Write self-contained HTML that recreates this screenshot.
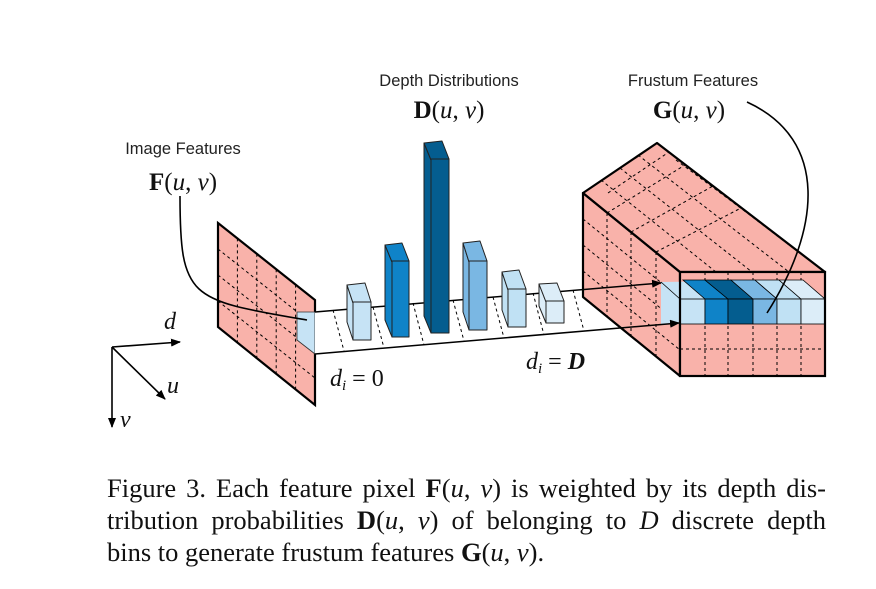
<!DOCTYPE html>
<html><head><meta charset="utf-8"><style>
html,body{margin:0;padding:0;background:#fff;}
body{width:876px;height:589px;position:relative;overflow:hidden;}
.cap{position:absolute;left:107px;width:719px;font-family:"Liberation Serif",serif;font-size:26.5px;color:#111;white-space:nowrap;text-align:justify;text-align-last:justify;line-height:32px;}
.cap i{font-style:italic}
</style></head><body>
<svg width="876" height="470" style="position:absolute;left:0;top:0" xmlns="http://www.w3.org/2000/svg">
<defs>
<marker id="ah" markerWidth="10" markerHeight="8" refX="9" refY="4" orient="auto" markerUnits="userSpaceOnUse"><path d="M0,0 L10,4 L0,8 z" fill="#000"/></marker>
</defs>
<g font-family="Liberation Sans, sans-serif" font-size="16.5" fill="#222" text-anchor="middle">
<text x="183" y="154">Image Features</text>
<text x="449" y="86">Depth Distributions</text>
<text x="693" y="86">Frustum Features</text>
</g>
<g font-family="Liberation Serif, serif" font-size="25" fill="#111" text-anchor="middle">
<text x="183" y="190"><tspan font-weight="bold">F</tspan>(<tspan font-style="italic">u</tspan>, <tspan font-style="italic">v</tspan>)</text>
<text x="449" y="118"><tspan font-weight="bold">D</tspan>(<tspan font-style="italic">u</tspan>, <tspan font-style="italic">v</tspan>)</text>
<text x="689" y="118"><tspan font-weight="bold">G</tspan>(<tspan font-style="italic">u</tspan>, <tspan font-style="italic">v</tspan>)</text>
</g>
<!-- axes -->
<g stroke="#000" stroke-width="1.6" fill="none">
<line x1="112" y1="347" x2="180" y2="342" marker-end="url(#ah)"/>
<line x1="112" y1="347" x2="165" y2="399" marker-end="url(#ah)"/>
<line x1="112" y1="347" x2="112" y2="427" marker-end="url(#ah)"/>
</g>
<g font-family="Liberation Serif, serif" font-size="24" font-style="italic" fill="#111">
<text x="164" y="329">d</text><text x="167" y="393">u</text><text x="120" y="427">v</text>
<text x="330" y="386">d<tspan font-size="15" dy="4">i</tspan><tspan dy="-4" font-style="normal"> = 0</tspan></text>
<text x="526" y="369">d<tspan font-size="15" dy="4">i</tspan><tspan dy="-4"> <tspan font-style="normal">=</tspan> <tspan font-weight="bold">D</tspan></tspan></text>
</g>
<!-- left plane -->
<polygon points="218,223 315,300 315,405 218,327" fill="#f9b2aa" stroke="#000" stroke-width="2.2"/>
<g stroke="#000" stroke-width="1" stroke-dasharray="3,3">
<line x1="237.4" y1="238.4" x2="237.4" y2="342.4"/><line x1="256.8" y1="253.8" x2="256.8" y2="357.8"/><line x1="276.2" y1="269.2" x2="276.2" y2="373.2"/><line x1="295.6" y1="284.6" x2="295.6" y2="388.6"/>
<line x1="218" y1="249" x2="315" y2="326"/><line x1="218" y1="275" x2="315" y2="352"/><line x1="218" y1="301" x2="315" y2="378"/>
</g>
<polygon points="297,312 315,312 315,354 297,340" fill="#c6e3f5" stroke="#333" stroke-width="0.8"/>
<!-- strip -->
<polygon points="315,312 662,283 680,323 315,354" fill="#fff"/>
<g stroke="#000" stroke-width="1" stroke-dasharray="3,3">
<line x1="333" y1="310" x2="344" y2="351"/><line x1="373" y1="307" x2="384" y2="348"/><line x1="413" y1="303" x2="424" y2="345"/><line x1="453" y1="300" x2="464" y2="341"/><line x1="493" y1="297" x2="504" y2="338"/><line x1="533" y1="293" x2="544" y2="335"/><line x1="573" y1="290" x2="584" y2="331"/>
</g>
<!-- cube -->
<polygon points="583,193 680,272 680,376 583,297" fill="#f9b2aa" stroke="#000" stroke-width="2.2" stroke-linejoin="round"/>
<polygon points="583,193 657,143 825,272 680,272" fill="#f9b2aa" stroke="#000" stroke-width="2.2" stroke-linejoin="round"/>
<g stroke="#000" stroke-width="1" stroke-dasharray="3,3">
<line x1="607" y1="213" x2="607" y2="317"/><line x1="631" y1="232" x2="631" y2="336"/><line x1="656" y1="252" x2="656" y2="356"/>
<line x1="583" y1="219" x2="680" y2="298"/><line x1="583" y1="245" x2="680" y2="324"/><line x1="583" y1="271" x2="680" y2="350"/>
<line x1="601" y1="180" x2="716" y2="272"/><line x1="620" y1="168" x2="752" y2="272"/><line x1="638" y1="155" x2="789" y2="272"/>
<line x1="607" y1="213" x2="685" y2="165"/><line x1="631" y1="232" x2="713" y2="186"/><line x1="656" y1="252" x2="741" y2="208"/><line x1="608" y1="193" x2="669" y2="152"/>
<line x1="676" y1="160" x2="769" y2="229"/><line x1="700" y1="177" x2="797" y2="251"/>
</g>
<rect x="680" y="272" width="145" height="104" fill="#f9b2aa"/>
<g stroke="#000" stroke-width="1" stroke-dasharray="3,3">
<line x1="705" y1="272" x2="705" y2="376"/><line x1="728" y1="272" x2="728" y2="376"/><line x1="753" y1="272" x2="753" y2="376"/><line x1="777" y1="272" x2="777" y2="376"/><line x1="801" y1="272" x2="801" y2="376"/>
<line x1="680" y1="349" x2="825" y2="349"/>
</g>
<!-- strip in cube -->
<polygon points="661,282 803,280 825,299 825,324 661,324" fill="#c6e3f5"/>
<polygon points="683,280 705,280 728,299 705,299" fill="#0f83c8" stroke="#000" stroke-width="0.8"/>
<polygon points="705,280 731,280 753,299 728,299" fill="#045d8f" stroke="#000" stroke-width="0.8"/>
<polygon points="731,280 755,280 777,299 753,299" fill="#7ab7e3" stroke="#000" stroke-width="0.8"/>
<polygon points="755,280 779,280 801,299 777,299" fill="#c0e1f4" stroke="#000" stroke-width="0.8"/>
<polygon points="779,280 803,280 825,299 801,299" fill="#dcedf8" stroke="#000" stroke-width="0.8"/>
<rect x="680" y="299" width="25" height="25" fill="#c6e3f5" stroke="#000" stroke-width="0.8"/>
<rect x="705" y="299" width="23" height="25" fill="#0f83c8" stroke="#000" stroke-width="0.8"/>
<rect x="728" y="299" width="25" height="25" fill="#045d8f" stroke="#000" stroke-width="0.8"/>
<rect x="753" y="299" width="24" height="25" fill="#7ab7e3" stroke="#000" stroke-width="0.8"/>
<rect x="777" y="299" width="24" height="25" fill="#c0e1f4" stroke="#000" stroke-width="0.8"/>
<rect x="801" y="299" width="24" height="25" fill="#dcedf8" stroke="#000" stroke-width="0.8"/>
<line x1="661" y1="282" x2="680" y2="299" stroke="#000" stroke-width="0.8"/>
<rect x="680" y="272" width="145" height="104" fill="none" stroke="#000" stroke-width="2.2"/>
<!-- strip lines & arrows -->
<g stroke="#000" stroke-width="1.5" fill="none">
<line x1="315" y1="312" x2="661" y2="283" marker-end="url(#ah)"/>
<line x1="315" y1="354" x2="679" y2="323" marker-end="url(#ah)"/>
</g>
<!-- bars -->
<g stroke="#222" stroke-width="1" stroke-linejoin="round">
<g fill="#c6e3f5"><polygon points="347,285 353,303 353,340 347,322"/><polygon points="347,285 365,283 371,302 353,303"/><rect x="353" y="302" width="18" height="38"/></g>
<g fill="#0f83c8"><polygon points="385,245 392,262 392,337 385,320"/><polygon points="385,245 402,243 409,261 392,262"/><rect x="392" y="261" width="17" height="76"/></g>
<g fill="#045d8f"><polygon points="424,143 431,160 431,333 424,316"/><polygon points="424,143 442,141 449,159 431,160"/><rect x="431" y="159" width="18" height="174"/></g>
<g fill="#7ab7e3"><polygon points="463,243 469,262 469,330 463,312"/><polygon points="463,243 480,241 487,261 469,262"/><rect x="469" y="261" width="18" height="69"/></g>
<g fill="#c0e1f4"><polygon points="502,272 508,290 508,327 502,310"/><polygon points="502,272 519,270 526,289 508,290"/><rect x="508" y="289" width="18" height="38"/></g>
<g fill="#dcedf8"><polygon points="539,284 546,302 546,323 539,306"/><polygon points="539,284 557,283 564,301 546,302"/><rect x="546" y="301" width="18" height="22"/></g>
</g>
<!-- curves -->
<path d="M180,196 C180,300 190,300 307,320" stroke="#000" stroke-width="1.6" fill="none"/>
<path d="M747,102 C830,140 820,230 767,313" stroke="#000" stroke-width="1.6" fill="none"/>
</svg>
<div class="cap" style="top:472px">Figure 3. Each feature pixel <b>F</b>(<i>u</i>, <i>v</i>) is weighted by its depth dis-</div>
<div class="cap" style="top:504px">tribution probabilities <b>D</b>(<i>u</i>, <i>v</i>) of belonging to <i>D</i> discrete depth</div>
<div class="cap" style="top:536px;width:auto;text-align:left;text-align-last:left">bins to generate frustum features <b>G</b>(<i>u</i>, <i>v</i>).</div>
</body></html>
